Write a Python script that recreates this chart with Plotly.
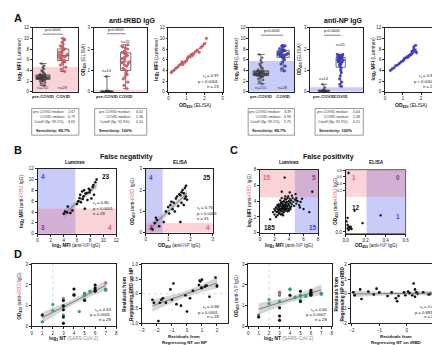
import numpy as np
import plotly.graph_objects as go

W, H = 440, 345
FONT = "Liberation Sans, Arial, sans-serif"
RED = "#e5606e"
BLUE = "#4646d2"
GREEN = "#36a68a"
PURPLE = "#8e2f92"
PINK_FILL = "rgba(240,110,130,0.30)"
BLUE_FILL = "rgba(100,110,235,0.35)"
BAND = "rgba(150,150,150,0.40)"

# ======================= data =======================
groups = ["pre-COVID", "COVID"]

lum_rbd_pre = [1.2, 1.5, 1.7, 1.9, 2.0, 2.1, 2.15, 2.2, 2.25, 2.3, 2.35, 2.4, 2.45, 2.5, 2.55, 2.6, 2.62, 2.65,
               2.67, 2.7, 2.72, 2.75, 2.8, 2.85, 2.9, 2.95, 3.0, 3.05, 3.1, 3.15, 3.2, 3.3, 3.4, 3.6, 3.8, 4.0,
               4.3, 4.6, 4.9, 5.3]
lum_rbd_covid = [3.8, 4.2, 4.6, 5.0, 5.3, 5.6, 5.7, 5.9, 6.1, 6.3, 6.5, 6.6, 6.7, 6.8, 6.8, 7.0, 7.2, 7.4, 7.6,
                 7.8, 8.0, 8.1, 8.3, 8.6, 8.9, 9.3, 9.7, 10.0]
eli_rbd_pre = [0.0, 0.0, 0.01, 0.01, 0.01, 0.02, 0.02, 0.02, 0.02, 0.03, 0.03, 0.04, 0.05, 0.72]
eli_rbd_covid = [0.15, 0.3, 0.45, 0.6, 0.7, 0.8, 0.85, 0.95, 1.05, 1.1, 1.2, 1.25, 1.3, 1.35, 1.36, 1.4, 1.5,
                 1.55, 1.6, 1.65, 1.7, 1.75, 1.8, 1.85, 1.85, 1.9, 2.0, 2.05, 2.1, 2.15, 2.2]
lum_np_pre = [1.5, 1.9, 2.2, 2.4, 2.6, 2.75, 2.85, 2.9, 2.95, 3.0, 3.05, 3.1, 3.15, 3.2, 3.25, 3.3, 3.35, 3.38,
              3.39, 3.4, 3.45, 3.5, 3.55, 3.6, 3.65, 3.7, 3.75, 3.8, 3.85, 3.9, 4.0, 4.2, 4.4, 4.6, 4.9, 5.2,
              5.5, 5.9, 6.4, 7.0]
lum_np_covid = [3.9, 4.3, 4.8, 5.2, 5.6, 6.0, 6.3, 6.5, 6.6, 6.7, 6.8, 6.9, 6.95, 7.0, 7.1, 7.2, 7.3, 7.4, 7.5,
                7.6, 7.7, 7.8, 7.9, 8.1, 8.3, 8.5, 8.6, 8.7]
eli_np_pre = [0.0, 0.01, 0.02, 0.03, 0.03, 0.04, 0.04, 0.04, 0.05, 0.06, 0.08, 0.1, 0.2, 0.35]
eli_np_covid = [0.25, 0.35, 0.45, 0.6, 0.75, 0.9, 1.0, 1.1, 1.2, 1.25, 1.3, 1.35, 1.4, 1.45, 1.48, 1.5, 1.5,
                1.55, 1.55, 1.6, 1.6, 1.62, 1.65, 1.68, 1.7, 1.7, 1.72, 1.75, 1.75, 1.6, 1.4]

corr_rbd_od = [0.15, 0.2, 0.3, 0.4, 0.5, 0.6, 0.7, 0.75, 0.8, 0.9, 1.0, 1.05, 1.1, 1.2, 1.25, 1.3, 1.35, 1.4,
               1.5, 1.6, 1.7, 1.8, 1.9, 2.0, 2.1]
corr_rbd_mfi = [3.6, 3.8, 4.0, 4.4, 4.6, 5.0, 5.2, 5.6, 5.1, 5.5, 5.8, 6.2, 6.6, 6.5, 6.9, 7.0, 6.8, 7.2, 7.5,
                7.8, 7.4, 8.3, 8.6, 9.0, 10.0]
corr_np_od = [0.3, 0.4, 0.5, 0.6, 0.7, 0.8, 0.9, 1.0, 1.05, 1.1, 1.2, 1.25, 1.3, 1.35, 1.4, 1.45, 1.5, 1.5,
              1.55, 1.6, 1.6, 1.65, 1.7, 1.7, 1.75]
corr_np_mfi = [4.0, 4.3, 4.5, 4.9, 5.0, 5.3, 5.6, 5.8, 6.0, 6.3, 6.4, 6.6, 6.5, 6.8, 6.9, 7.0, 7.2, 7.6, 7.4,
               8.0, 8.4, 7.8, 8.7, 7.6, 7.3]

fn_lum_np = [4.0, 4.2, 4.5, 4.6, 5.0, 5.3, 6.0, 6.2, 6.4, 6.5, 6.6, 6.8, 6.9, 7.0, 7.1, 7.2, 7.3, 7.5, 7.6, 7.8,
             7.9, 8.0, 8.2, 8.4, 8.5, 8.6, 8.8, 9.0]
fn_lum_rbd = [3.7, 4.1, 3.9, 5.0, 3.8, 4.3, 5.5, 6.0, 6.6, 7.2, 5.8, 7.8, 6.4, 6.9, 8.0, 4.6, 7.4, 7.5, 6.2, 8.3,
              7.6, 8.0, 6.5, 8.6, 9.0, 7.2, 9.5, 10.0]
fn_eli_np = [0.25, 0.3, 0.4, 0.45, 0.5, 0.6, 0.8, 0.9, 1.0, 1.05, 1.1, 1.15, 1.2, 1.25, 1.3, 1.35, 1.4, 1.45,
             1.5, 1.55, 1.55, 1.6, 1.6, 1.65, 1.7, 1.7, 1.75, 1.75, 1.8, 1.8, 1.85]
fn_eli_rbd = [0.2, 0.15, 0.45, 0.7, 0.6, 0.3, 0.5, 1.0, 1.2, 0.9, 1.3, 1.45, 1.1, 1.4, 1.0, 1.6, 1.7, 1.25, 1.8,
              1.75, 0.5, 1.9, 1.4, 2.0, 1.85, 1.3, 2.1, 1.6, 2.2, 1.7, 1.55]

fp_lum_np = [2.0, 2.1, 2.2, 2.3, 2.4, 2.4, 2.5, 2.5, 2.6, 2.6, 2.7, 2.7, 2.8, 2.8, 2.9, 2.9, 3.0, 3.0, 3.0, 3.1,
             3.1, 3.2, 3.2, 3.2, 3.3, 3.3, 3.3, 3.4, 3.4, 3.5, 3.5, 3.5, 3.6, 3.6, 3.7, 3.7, 3.8, 3.8, 3.9, 3.9,
             4.0, 4.0, 4.1, 4.1, 4.2, 4.3, 4.4, 4.5, 4.6, 4.7, 2.2, 2.6, 2.9, 3.1, 3.4, 3.6, 3.8, 4.2, 2.8, 3.0,
             3.2, 3.5, 3.9, 4.4, 4.8, 5.0, 5.2, 5.4, 5.0, 5.6, 2.4, 2.0, 1.8, 3.3, 3.7, 3.1, 2.7, 4.0, 4.3, 3.5,
             1.4, 3.0, 3.4, 4.1, 4.9, 7.2, 5.0, 5.5, 6.8, 5.8, 6.0]
fp_lum_rbd = [2.3, 2.8, 2.0, 2.6, 3.0, 2.2, 2.7, 3.3, 2.4, 2.9, 3.1, 2.5, 3.5, 2.8, 3.0, 2.3, 3.3, 3.7, 2.7, 3.1,
              3.9, 2.9, 3.4, 3.6, 3.2, 2.6, 4.0, 3.5, 3.0, 3.8, 3.3, 2.8, 4.2, 3.6, 3.1, 3.9, 3.4, 4.4, 3.7, 3.0,
              4.0, 3.5, 4.3, 3.2, 3.8, 4.1, 3.6, 4.4, 3.9, 3.4, 3.2, 3.6, 3.8, 2.4, 4.3, 2.9, 2.7, 3.0, 4.1, 4.4,
              2.2, 4.6, 4.6, 4.7, 4.2, 3.7, 4.0, 3.5, 4.4, 3.9, 3.5, 3.0, 2.6, 3.5, 3.3, 3.0, 3.3, 2.8, 3.3, 3.1,
              1.7, 5.2, 7.0, 5.1, 4.9, 5.2, 4.1, 3.2, 2.6, 4.3, 3.0]
fp_eli_np = [0.02, 0.03, 0.02, 0.04, 0.05, 0.03, 0.06, 0.01, 0.02, 0.09, 0.17, 0.05, 0.35, 0.03]
fp_eli_rbd = [0.01, 0.015, 0.02, 0.01, 0.012, 0.005, 0.008, 0.03, 0.04, 0.06, 0.025, 0.015, 0.047, 0.72]

nt_rbd_x = [1, 1, 2, 2, 3, 3, 3, 3, 3, 3, 3, 4, 4, 4.5, 5, 5, 5, 5, 5.5, 6, 6, 6, 6, 7, 7, 7, 3, 4]
nt_rbd_y = [0.55, 0.22, 1.05, 0.75, 1.35, 1.25, 0.95, 0.8, 0.55, 0.45, 0.15, 1.8, 1.55, 0.72, 1.6, 1.5, 1.3,
            1.25, 1.7, 2.0, 1.85, 1.75, 1.7, 2.1, 1.8, 1.75, 1.0, 1.5]
nt_rbd_c = ["k", "g", "g", "g", "r", "k", "g", "k", "g", "k", "k", "k", "g", "g", "g", "g", "g", "k", "g", "k",
            "k", "k", "k", "r", "g", "g", "k", "k"]
res_np_x = [-2.3, -2.2, -1.9, -1.8, -1.7, -1.6, -1.4, -1.1, -1.0, -0.9, -0.4, -0.1, 0.0, 0.2, 0.4, 0.8, 0.85,
            0.9, 0.95, 1.0, 1.0, 1.2, 1.3, 1.5, 1.9, 2.0, 2.0, -0.7]
res_np_y = [-0.2, -0.3, -0.92, -0.3, -0.2, -0.15, -0.3, 0.15, -0.2, 0.35, -0.4, -0.05, -0.6, -0.15, 0.1, 0.3,
            0.45, 0.42, 0.2, 0.48, 0.2, 0.25, 0.28, -0.1, 0.55, 0.25, 0.28, -0.35]
nt_np_x = [1, 1, 2, 2, 3, 3, 3, 3, 3, 3, 4, 4, 4, 4.5, 5, 5, 5, 5, 5, 5.5, 6, 6, 6, 6, 7, 7, 3, 6]
nt_np_y = [0.55, 0.45, 1.3, 1.1, 1.65, 1.5, 1.2, 0.9, 0.5, 0.3, 1.8, 1.78, 1.5, 1.4, 1.5, 1.45, 1.25, 1.2, 1.7,
           1.45, 1.6, 1.65, 1.75, 1.5, 1.6, 1.55, 1.6, 1.55]
nt_np_c = ["g", "k", "g", "g", "r", "g", "g", "k", "k", "k", "g", "g", "k", "g", "g", "g", "g", "k", "k", "g",
           "k", "k", "k", "k", "g", "g", "r", "k"]
res_rbd_x = [-1.95, -1.9, -1.7, -1.65, -1.4, -1.2, -1.1, -1.0, -0.7, -0.55, -0.4, -0.35, -0.3, -0.1, -0.05,
             0.05, 0.1, 0.2, 0.25, 0.3, 0.3, 0.35, 0.4, 0.6, 0.8, 0.85, 1.1, 1.15]
res_rbd_y = [0.1, -0.1, 0.3, -0.35, 0.15, -0.05, 0.35, 0.1, -0.15, 0.1, -0.3, -0.5, -0.15, 0.1, -0.1, 0.15, 0.05,
             -0.1, 0.7, 0.3, -0.2, 0.1, 0.0, 0.1, -0.05, 0.0, -0.3, 0.4]

cut_lum_rbd, cut_lum_np = 4.63, 5.75
cut_eli_rbd, cut_eli_np = 0.10, 0.21
fn_eli_cut_np, fn_eli_cut_rbd = 0.75, 0.45
fp_lum_cut_np, fp_lum_cut_rbd = 4.8, 4.5

stats_rbd_lum = [("pre-COVID median:", "2.67"), ("COVID median:", "6.79"), ("Cutoff (Sp. 99.1%):", "4.63")]
stats_rbd_eli = [("pre-COVID median:", "0.02"), ("COVID median:", "1.36"), ("Cutoff (Sp. 92.9%):", "0.10")]
stats_np_lum = [("pre-COVID median:", "3.39"), ("COVID median:", "6.96"), ("Cutoff (Sp. 99.1%):", "5.75")]
stats_np_eli = [("pre-COVID median:", "0.04"), ("COVID median:", "1.48"), ("Cutoff (Sp. 92.9%):", "0.21")]
sens = ["Sensitivity: 85.7%", "Sensitivity: 100%", "Sensitivity: 85.7%", "Sensitivity: 100%"]

corr_text = {
    3: ["r<sub>s</sub> = 0.97", "p < 0.0001", "n = 25"],
    6: ["r<sub>s</sub> = 0.87", "p < 0.0001", "n = 25"],
    7: ["r<sub>s</sub> = 0.80", "p < 0.0001", "n = 28"],
    8: ["r<sub>s</sub> = 0.75", "p < 0.0001", "n = 31"],
    12: ["r<sub>s</sub> = 0.63", "p = 0.0001", "n = 28"],
    13: ["r<sub>s</sub> = 0.68", "p = 0.0001", "n = 28"],
    14: ["r<sub>s</sub> = 0.60", "p = 0.0007", "n = 28"],
    15: ["r<sub>s</sub> = 0.03", "p = 0.8819", "n = 28"],
}

# ======================= layout helpers =======================
panels = {
    1: (22, 68, 18, 83), 2: (84, 138, 18, 83), 3: (160, 215, 18, 83),
    4: (242, 288, 18, 83), 5: (304, 358, 18, 83), 6: (380, 435, 18, 83),
    7: (27, 107, 161, 227), 8: (137, 205, 161, 226),
    9: (253, 312, 162, 226), 10: (340, 401, 186, 227), 11: (340, 401, 162, 186),
    12: (21, 107, 258, 321), 13: (133, 220, 258, 318), 14: (241, 326, 258, 321), 15: (345, 437, 258, 318),
}
cat_ranges = {1: [-0.51, 1.73], 2: [-0.71, 2.13], 4: [-0.53, 1.51], 5: [-0.82, 2.35]}


def X(i):
    return "x" if i == 1 else f"x{i}"


def Y(i):
    return "y" if i == 1 else f"y{i}"


def px(x):
    return x / W


def py(y):
    return 1 - y / H


def base_axis(**kw):
    d = dict(showline=True, linecolor="#222", linewidth=0.7, mirror=True, ticks="outside", ticklen=2,
             tickwidth=0.6, tickcolor="#222", tickfont=dict(size=4.5, family=FONT, color="#222"),
             showgrid=False, zeroline=False, fixedrange=True, tickangle=0)
    d.update(kw)
    return d


layout = dict(width=W, height=H, margin=dict(l=0, r=0, t=0, b=0), paper_bgcolor="white",
              plot_bgcolor="rgba(0,0,0,0)", showlegend=False, font=dict(family=FONT, color="#111"))
for i, (x0, x1, t, b) in panels.items():
    sx = "" if i == 1 else str(i)
    layout["xaxis" + sx] = base_axis(domain=[px(x0), px(x1)], anchor=Y(i))
    layout["yaxis" + sx] = base_axis(domain=[py(b), py(t)], anchor=X(i))


def setx(i, **kw):
    layout["xaxis" + ("" if i == 1 else str(i))].update(kw)


def sety(i, **kw):
    layout["yaxis" + ("" if i == 1 else str(i))].update(kw)


for i in (1, 2, 4, 5):
    setx(i, type="category", categoryorder="array", categoryarray=groups, range=cat_ranges[i], ticks="",
         tickvals=groups, ticktext=["<b>" + g + "</b>" for g in groups], tickangle=0,
         tickfont=dict(size=4.3, family=FONT, color="#222"))
for i in (1, 4):
    sety(i, range=[0, 12], dtick=2)
for i in (2, 5):
    sety(i, range=[0, 3], dtick=1)
for i in (3, 6):
    setx(i, range=[0, 3], dtick=1)
    sety(i, range=[0, 12], dtick=2)
setx(7, range=[0, 12], dtick=2); sety(7, range=[0, 12], dtick=2)
setx(8, range=[0, 3], dtick=1); sety(8, range=[0, 3], dtick=1)
setx(9, range=[0, 8], dtick=2); sety(9, range=[0, 8], dtick=2)
setx(10, range=[0, 0.6], tickvals=[0, 0.2, 0.4, 0.6], ticktext=["0.0", "0.2", "0.4", "0.6"], mirror=False)
sety(10, range=[-0.005, 0.11], tickvals=[0], ticktext=["0.0"], mirror=False)
setx(11, range=[0, 0.6], visible=False)
sety(11, range=[0.11, 0.82], tickvals=[0.2, 0.4, 0.6, 0.8], ticktext=["0.2", "0.4", "0.6", "0.8"],
     mirror=False, tickfont=dict(size=3.8, family=FONT, color="#222"))
for i in (12, 14):
    setx(i, range=[0, 8], dtick=1); sety(i, range=[0, 3], dtick=1)
setx(13, range=[-3, 2.7], dtick=1)
sety(13, range=[-1, 1], tickvals=[-1, -0.5, 0, 0.5, 1], ticktext=["-1.0", "-0.5", "0.0", "0.5", "1.0"])
setx(15, range=[-2.05, 1.25], dtick=1); sety(15, range=[-2, 2], dtick=1)

fig = go.Figure()
shapes, ann = [], []


def text(x, y, s, size=5, color="#111", xa="center", ya="middle", xref="paper", yref="paper", angle=0):
    if xref == "paper":
        x = px(x)
    if yref == "paper":
        y = py(y)
    ann.append(dict(x=x, y=y, text=s, showarrow=False, xref=xref, yref=yref, xanchor=xa, yanchor=ya,
                    textangle=angle, font=dict(size=size, color=color, family=FONT)))


def rect(i, x0, x1, y0, y1, fill, xdom=False, ydom=False):
    shapes.append(dict(type="rect", xref=X(i) + (" domain" if xdom else ""), yref=Y(i) + (" domain" if ydom else ""),
                       x0=x0, x1=x1, y0=y0, y1=y1, fillcolor=fill, line=dict(width=0), layer="below"))


# ======================= panel A: boxes =======================
def box_group(i, pre, covid, color, pre_fill):
    for g, vals in (("pre-COVID", pre), ("COVID", covid)):
        v = np.asarray(vals, float)
        q1, med, q3 = np.percentile(v, [25, 50, 75])
        is_pre = g == "pre-COVID"
        bw = 0.7 if is_pre else 0.55
        fig.add_trace(go.Box(x=[g], q1=[q1], median=[med], q3=[q3], lowerfence=[v.min()], upperfence=[v.max()],
                             xaxis=X(i), yaxis=Y(i), boxpoints=False, width=bw, whiskerwidth=0.5,
                             fillcolor=pre_fill if is_pre else "rgba(0,0,0,0)",
                             line=dict(color="#333", width=0.7), hoverinfo="skip"))
        fig.add_trace(go.Box(x=[g] * len(v), y=v, xaxis=X(i), yaxis=Y(i), boxpoints="all", jitter=0.85,
                             pointpos=0, width=bw, fillcolor="rgba(0,0,0,0)",
                             line=dict(width=0, color="rgba(0,0,0,0)"), hoverinfo="skip",
                             marker=dict(size=2 if is_pre else 2.8,
                                         color="rgba(70,70,70,0.8)" if is_pre else color,
                                         line=dict(width=0.3, color="#333" if is_pre else "rgba(0,0,0,0.35)"))))


box_group(1, lum_rbd_pre, lum_rbd_covid, RED, "rgba(100,100,100,0.55)")
box_group(2, eli_rbd_pre, eli_rbd_covid, RED, "rgba(100,100,100,0.55)")
box_group(4, lum_np_pre, lum_np_covid, BLUE, "rgba(100,100,100,0.55)")
box_group(5, eli_np_pre, eli_np_covid, BLUE, "rgba(100,100,100,0.55)")

rect(1, 0, 1, 0, cut_lum_rbd, PINK_FILL, xdom=True)
rect(2, 0, 1, 0, cut_eli_rbd, PINK_FILL, xdom=True)
rect(4, 0, 1, 0, cut_lum_np, BLUE_FILL, xdom=True)
rect(5, 0, 1, 0, cut_eli_np, BLUE_FILL, xdom=True)

for i, ysig in ((1, 10.8), (2, 2.72), (4, 10.6), (5, 2.65)):
    shapes.append(dict(type="line", xref=X(i), yref=Y(i), x0=0, x1=1, y0=ysig, y1=ysig,
                       line=dict(color="#333", width=0.6)))
    text(0.5, ysig, "p<0.0001", size=3.8, xref=X(i), yref=Y(i), ya="bottom")

for i, pos in ((1, [(0, 0.8, "n=210"), (1, 0.8, "n=28")]), (4, [(0, 0.8, "n=210"), (1, 0.8, "n=28")]),
               (2, [(0, 1.0, "n=14"), (1, 2.35, "n=31")]), (5, [(0, 0.6, "n=14"), (1, 2.2, "n=31")])):
    for xx, yy, s in pos:
        text(xx, yy, s, size=4, xref=X(i), yref=Y(i), color="#333")


# ======================= regressions =======================
def reg(i, x, y):
    x = np.asarray(x, float)
    y = np.asarray(y, float)
    b, a = np.polyfit(x, y, 1)
    xs = np.linspace(x.min(), x.max(), 40)
    yh = a + b * xs
    s = np.sqrt(np.sum((y - (a + b * x)) ** 2) / (len(x) - 2))
    se = s * np.sqrt(1 / len(x) + (xs - x.mean()) ** 2 / np.sum((x - x.mean()) ** 2))
    fig.add_trace(go.Scatter(x=xs, y=yh + 2.05 * se, mode="lines", line=dict(width=0), xaxis=X(i), yaxis=Y(i),
                             hoverinfo="skip"))
    fig.add_trace(go.Scatter(x=xs, y=yh - 2.05 * se, mode="lines", line=dict(width=0), fill="tonexty",
                             fillcolor=BAND, xaxis=X(i), yaxis=Y(i), hoverinfo="skip"))
    fig.add_trace(go.Scatter(x=xs, y=yh, mode="lines", line=dict(width=0.7, color="#555"), xaxis=X(i),
                             yaxis=Y(i), hoverinfo="skip"))


def pts(i, x, y, color, size=2.8):
    fig.add_trace(go.Scatter(x=x, y=y, mode="markers", xaxis=X(i), yaxis=Y(i), hoverinfo="skip",
                             marker=dict(size=size, color=color, line=dict(width=0.3, color="rgba(0,0,0,0.4)"))))


reg(3, corr_rbd_od, corr_rbd_mfi); pts(3, corr_rbd_od, corr_rbd_mfi, RED)
reg(6, corr_np_od, corr_np_mfi); pts(6, corr_np_od, corr_np_mfi, BLUE)

# ======================= B =======================
rect(7, 0, cut_lum_np, 0, 1, BLUE_FILL, ydom=True)
rect(7, 0, 1, 0, cut_lum_rbd, PINK_FILL, xdom=True)
reg(7, fn_lum_np, fn_lum_rbd); pts(7, fn_lum_np, fn_lum_rbd, "#111", 2.5)
rect(8, 0, fn_eli_cut_np, 0, 1, BLUE_FILL, ydom=True)
rect(8, 0, 1, 0, fn_eli_cut_rbd, PINK_FILL, xdom=True)
reg(8, fn_eli_np, fn_eli_rbd); pts(8, fn_eli_np, fn_eli_rbd, "#111", 2.5)

# ======================= C =======================
rect(9, fp_lum_cut_np, 8, 0, 1, BLUE_FILL, ydom=True)
rect(9, 0, 1, fp_lum_cut_rbd, 8, PINK_FILL, xdom=True)
pts(9, fp_lum_np, fp_lum_rbd, "#111", 2.3)
for i in (10, 11):
    rect(i, cut_eli_np, 0.6, 0, 1, BLUE_FILL, ydom=True)
rect(10, 0, 1, cut_eli_rbd, 0.11, PINK_FILL, xdom=True)
rect(11, 0, 1, 0, 1, PINK_FILL, xdom=True, ydom=True)
lo = [k for k, v in enumerate(fp_eli_rbd) if v < 0.11]
hi = [k for k, v in enumerate(fp_eli_rbd) if v >= 0.11]
pts(10, [fp_eli_np[k] for k in lo], [fp_eli_rbd[k] for k in lo], "#111", 2.3)
pts(11, [fp_eli_np[k] for k in hi], [fp_eli_rbd[k] for k in hi], "#111", 2.3)
shapes.append(dict(type="rect", xref="paper", yref="paper", x0=px(340), x1=px(401), y0=py(227), y1=py(162),
                   line=dict(color="#222", width=0.7)))

# ======================= D =======================
cmap = {"k": "#111", "g": GREEN, "r": RED}
for i in (12, 14):
    shapes.append(dict(type="line", xref=X(i), yref=Y(i) + " domain", x0=2, x1=2, y0=0, y1=1,
                       line=dict(color="#bbb", width=0.6, dash="dot")))
for i in (13, 15):
    shapes.append(dict(type="line", xref=X(i) + " domain", yref=Y(i), x0=0, x1=1, y0=0, y1=0,
                       line=dict(color="#bbb", width=0.6, dash="dot")))
reg(12, nt_rbd_x, nt_rbd_y); pts(12, nt_rbd_x, nt_rbd_y, [cmap[c] for c in nt_rbd_c], 3)
reg(13, res_np_x, res_np_y); pts(13, res_np_x, res_np_y, "#111", 2.6)
reg(14, nt_np_x, nt_np_y); pts(14, nt_np_x, nt_np_y, [cmap[c] for c in nt_np_c], 3)
reg(15, res_rbd_x, res_rbd_y); pts(15, res_rbd_x, res_rbd_y, "#111", 2.6)

# ======================= counts =======================
counts = [
    (7, 0.9, 10.5, "4", BLUE), (7, 10.5, 10.5, "23", "#111"), (7, 0.9, 1.2, "3", PURPLE), (7, 11.0, 1.2, "4", RED),
    (8, 0.25, 2.6, "4", BLUE), (8, 2.75, 2.6, "25", "#111"), (8, 0.22, 0.25, "2", PURPLE), (8, 2.8, 0.23, "4", RED),
    (9, 1.0, 7.0, "15", RED), (9, 7.5, 7.0, "5", PURPLE), (9, 1.3, 0.6, "185", "#111"), (9, 7.3, 0.6, "15", BLUE),
    (11, 0.08, 0.58, "1", RED), (11, 0.52, 0.58, "0", PURPLE), (10, 0.1, 0.07, "12", "#111"),
    (10, 0.52, 0.045, "1", BLUE),
]
for i, xx, yy, s, c in counts:
    text(xx, yy, "<b>" + s + "</b>", size=6.5, color=c, xref=X(i), yref=Y(i))

# ======================= correlation texts =======================
ctext_pos = {3: (2.9, [2.9, 1.9, 1.0], "right"), 6: (2.9, [2.9, 1.9, 1.0], "right"),
             7: (8.2, [5.6, 4.7, 3.8], "left"), 8: (2.2, [1.15, 0.9, 0.65], "left"),
             12: (7.7, [0.81, 0.57, 0.33], "right"), 13: (2.3, [-0.46, -0.62, -0.78], "right"),
             14: (7.7, [0.81, 0.57, 0.33], "right"), 15: (1.15, [-0.92, -1.24, -1.56], "right")}
for i, (xx, ys, al) in ctext_pos.items():
    for yy, s in zip(ys, corr_text[i]):
        text(xx, yy, s, size=4.2, xref=X(i), yref=Y(i), xa=al)

# ======================= axis titles =======================
R = f"<span style='color:{RED}'>tRBD</span>"
B_ = f"<span style='color:{BLUE}'>NP</span>"
lum = "<b>log<sub>2</sub> MFI</b> (Luminex)"
eli = "<b>OD<sub>450</sub></b> (ELISA)"
for xx in (8, 229):
    text(xx, 50, lum, size=5, angle=-90)
for xx in (148, 368):
    text(xx, 50, lum, size=5, angle=-90)
for xx in (73, 293):
    text(xx, 50, eli, size=5, angle=-90)
text(187, 97, eli, size=5)
text(407, 97, eli, size=5)

text(11, 194, f"<b>log<sub>2</sub> MFI</b> (anti-{R} IgG)", size=4.8, angle=-90)
text(67, 239, f"<b>log<sub>2</sub> MFI</b> (anti-{B_} IgG)", size=4.8)
text(124, 194, f"<b>OD<sub>450</sub></b> (anti-{R} IgG)", size=4.8, angle=-90)
text(171, 239, f"<b>OD<sub>450</sub></b> (anti-{B_} IgG)", size=4.8)
text(243, 194, f"<b>log<sub>2</sub> MFI</b> (anti-{R} IgG)", size=4.8, angle=-90)
text(283, 239, f"<b>log<sub>2</sub> MFI</b> (anti-{B_} IgG)", size=4.8)
text(330, 194, f"<b>OD<sub>450</sub></b> (anti-{R} IgG)", size=4.8, angle=-90)
text(371, 239, f"<b>OD<sub>450</sub></b> (anti-{B_} IgG)", size=4.8)

nt = "<b>log<sub>2</sub> NT</b> <span style='color:#888'>(SARS-CoV-2)</span>"
text(9, 290, f"<b>OD<sub>450</sub></b> (anti-{R} IgG)", size=4.8, angle=-90)
text(64, 333.5, nt, size=4.8)
text(229, 290, f"<b>OD<sub>450</sub></b> (anti-{B_} IgG)", size=4.8, angle=-90)
text(283, 333.5, nt, size=4.8)
text(119, 288, "<b>Residuals from<br>Regressing RBD on NP</b>", size=4.8, angle=-90)
text(334, 288, "<b>Residuals from<br>Regressing NP on tRBD</b>", size=4.8, angle=-90)
for xc, second in ((176, "Regressing NT on NP"), (391, "Regressing NT on tRBD")):
    text(xc, 331.5, "<b>Residuals from</b>", size=4.4)
    text(xc, 337.8, "<b>" + second + "</b>", size=4.4)

# ======================= titles / letters =======================
text(7, 8, "<b>A</b>", size=11)
text(7, 142, "<b>B</b>", size=11)
text(227, 142, "<b>C</b>", size=11)
text(7, 248, "<b>D</b>", size=11)
text(123, 11, "<b>anti-tRBD IgG</b>", size=7)
text(338, 11, "<b>anti-NP IgG</b>", size=7)
text(117, 149, "<b>False negativity</b>", size=7)
text(323, 149, "<b>False positivity</b>", size=7)
text(65, 155, "<b>Luminex</b>", size=4.8)
text(172, 155, "<b>ELISA</b>", size=4.8)
text(283, 155, "<b>Luminex</b>", size=4.8)
text(371, 155, "<b>ELISA</b>", size=4.8)

# ======================= stats boxes =======================
for (x0, x1, lab_r), st, sv in zip([(21, 69, 57), (85, 138, 124), (241, 288, 276), (309, 358, 345)],
                                    [stats_rbd_lum, stats_rbd_eli, stats_np_lum, stats_np_eli], sens):
    shapes.append(dict(type="rect", xref="paper", yref="paper", x0=px(x0), x1=px(x1), y0=py(127), y1=py(100),
                       line=dict(color="#555", width=0.6)))
    for yy, (lab, val) in zip([104, 109, 114], st):
        text(lab_r, yy, lab, size=3.6, xa="right", color="#333")
        text(x1 - 1.5, yy, val, size=3.6, xa="right", color="#333")
    text(x0 + 2, 122.5, "<b>" + sv + "</b>", size=4, xa="left")

layout["shapes"] = shapes
layout["annotations"] = ann
fig.update_layout(**layout)
fig.write_html("out.html")
